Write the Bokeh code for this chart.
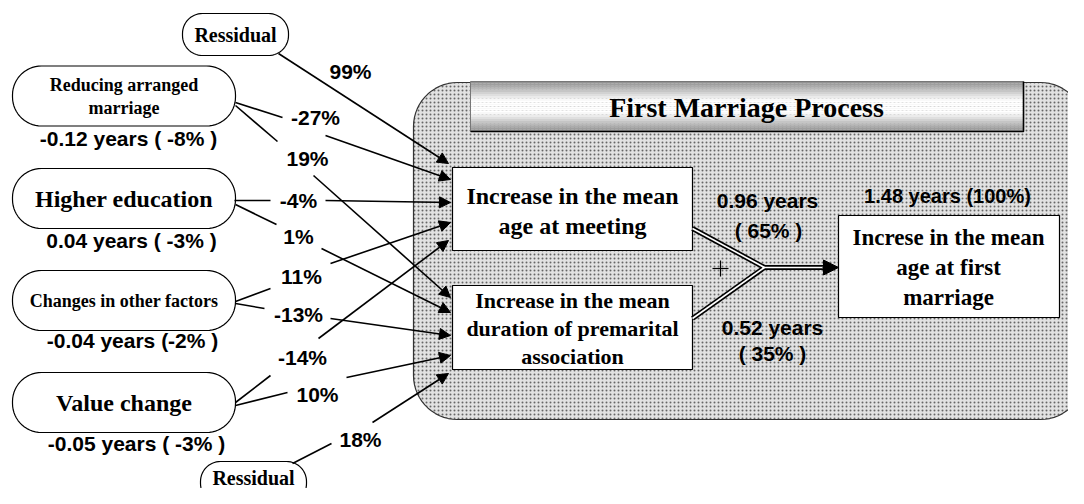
import numpy as np
from bokeh.plotting import figure
from bokeh.models import Range1d, Arrow, NormalHead
from bokeh.core.properties import value
from bokeh.embed import file_html
from bokeh.resources import INLINE

# ---------------- data ----------------
title = "First Marriage Process"
source_names = [["Reducing arranged", "marriage"], ["Higher education"],
                ["Changes in other factors"], ["Value change"]]
effect_labels = ["-0.12 years ( -8% )", "0.04 years ( -3% )",
                 "-0.04 years (-2% )", "-0.05 years ( -3% )"]
to_meeting = [-27, -4, 11, -14]        # path coefficients (%) to age at meeting
to_duration = [19, 1, -13, 10]         # path coefficients (%) to duration
residual_name = "Ressidual"
residual_meeting = 99
residual_duration = 18
meeting_label = ["Increase in the mean", "age at meeting"]
duration_label = ["Increase in the mean", "duration of premarital", "association"]
outcome_label = ["Increse in the mean", "age at first", "marriage"]
meeting_years, meeting_share = 0.96, 65
duration_years, duration_share = 0.52, 35
total_years, total_share = 1.48, 100

SERIF = value("Liberation Serif")
SANS = value("Liberation Sans")

# ---------------- figure ----------------
p = figure(width=1068, height=488, x_range=Range1d(0, 1068), y_range=Range1d(488, 0),
           output_backend="svg", toolbar_location=None, min_border=0)
p.axis.visible = False
p.grid.visible = False
p.outline_line_color = None
p.background_fill_color = "white"


def rrect(x0, y0, x1, y1, r, n=16):
    pts = []
    for cx, cy, a0 in [(x1 - r, y0 + r, -np.pi / 2), (x1 - r, y1 - r, 0),
                       (x0 + r, y1 - r, np.pi / 2), (x0 + r, y0 + r, np.pi)]:
        t = np.linspace(a0, a0 + np.pi / 2, n)
        pts += list(zip(cx + r * np.cos(t), cy + r * np.sin(t)))
    xs, ys = zip(*pts)
    return list(xs), list(ys)


def txt(xs, ys, texts, size, font=SERIF, bold=True, align="center"):
    p.text(x=xs, y=ys, text=texts, text_font=font, text_font_size=f"{size}px",
           text_font_style="bold" if bold else "normal", text_align=align,
           text_baseline="middle", text_color="black")


# process region
bx, by = rrect(413, 82, 1084, 419, 44)
p.patch(bx, by, fill_color="#e2e2e2", line_color="#333333", line_width=1.2,
        hatch_pattern="dot", hatch_color="#666666", hatch_scale=4, hatch_weight=1)

# banner with vertical gradient
n = 24
for k in range(n):
    t = (k + 0.5) / n
    d = abs(t - 0.5) * 2
    g = int(255 - 115 * max(0.0, d - 0.25) / 0.75)
    p.quad(left=470, right=1023, top=81 + k * 50 / n, bottom=81 + (k + 1) * 50 / n,
           fill_color=(g, g, g), line_color=None)
p.line([470, 470, 1023], [131, 81, 81], line_color="#777777", line_width=1)
p.line([470, 1023, 1023], [131, 131, 81], line_color="black", line_width=1.6)
txt([746], [107], [title], 28)

# process boxes
p.quad(left=452, right=692, top=167, bottom=250, fill_color="white", line_color="black", line_width=1.2)
txt([572, 572], [195, 225], meeting_label, 24)
p.quad(left=452, right=692, top=285, bottom=369, fill_color="white", line_color="black", line_width=1.2)
txt([572] * 3, [300, 328, 356], duration_label, 22)
p.quad(left=838, right=1059, top=215, bottom=317, fill_color="white", line_color="black", line_width=1.2)
txt([948] * 3, [237, 267, 297], outcome_label, 23)

# source boxes
src_cy = [95.5, 198, 300, 402]
src_fs = [18, 24, 18, 24]
eff_x = [128, 131, 132, 136]
eff_y = [138, 240, 340, 443]
for i, names in enumerate(source_names):
    xs, ys = rrect(12, src_cy[i] - 30, 235, src_cy[i] + 30, 29)
    p.patch(xs, ys, fill_color="white", line_color="black", line_width=1.2)
    off = [-11.5, 11.5] if len(names) == 2 else [0]
    txt([123.5] * len(names), [src_cy[i] + o for o in off], names, src_fs[i])
    txt([eff_x[i]], [eff_y[i]], [effect_labels[i]], 21, font=SANS)

# residual boxes
for (x0, y0, x1, y1, ty) in [(182, 13, 288, 55, 34), (200, 461, 306, 503, 477)]:
    xs, ys = rrect(x0, y0, x1, y1, 20)
    p.patch(xs, ys, fill_color="white", line_color="black", line_width=1.2)
    txt([(x0 + x1) / 2], [ty], [residual_name], 20)

# ---------------- paths ----------------
paths = [  # value, start, pre-label end, label pos, post-label start, tip
    (to_meeting[0], (235, 102), (282, 117), (315, 117), (325, 135), (450, 179)),
    (to_duration[0], (235, 105), (277, 141), (307, 158), (313, 175), (450, 297)),
    (to_meeting[1], (234, 200), (270, 200), (298, 200), (325, 200), (450, 202)),
    (to_duration[1], (235, 204), (276, 224), (298, 236), (321, 248), (450, 312)),
    (to_meeting[2], (235, 301), (270, 288), (301, 276), (330, 263), (450, 222)),
    (to_duration[2], (235, 303), (264, 308), (298, 314), (330, 318), (450, 335)),
    (to_meeting[3], (235, 402), (270, 375), (302, 357), (318, 338), (448, 240)),
    (to_duration[3], (235, 405), (287, 392), (317, 394), (346, 377), (450, 355)),
    (residual_duration, (292, 463), (331, 443), (360, 439), (372, 422), (448, 373)),
]
for v, s, a, l, b, t in paths:
    p.line([s[0], a[0]], [s[1], a[1]], line_color="black", line_width=1.6)
    p.add_layout(Arrow(end=NormalHead(size=11, fill_color="black", line_color="black"),
                       x_start=b[0], y_start=b[1], x_end=t[0], y_end=t[1],
                       line_color="black", line_width=1.6))
    txt([l[0]], [l[1]], [f"{v}%"], 21, font=SANS)

# residual -> meeting
p.add_layout(Arrow(end=NormalHead(size=11, fill_color="black", line_color="black"),
                   x_start=278, y_start=53, x_end=448, y_end=163,
                   line_color="black", line_width=1.6))
txt([350], [71], [f"{residual_meeting}%"], 21, font=SANS)

# double lines into outcome
for seg in [([692, 764], [228, 267]), ([692, 764], [318, 267]), ([764, 826], [267, 267])]:
    p.line(seg[0], seg[1], line_color="black", line_width=5)
for seg in [([692, 764], [228, 267]), ([692, 764], [318, 267]), ([762, 826], [267, 267])]:
    p.line(seg[0], seg[1], line_color="white", line_width=1.6)
p.add_layout(Arrow(end=NormalHead(size=15, fill_color="black", line_color="black"),
                   x_start=822, y_start=267, x_end=838, y_end=267,
                   line_color="black", line_width=1))
# plus sign
p.segment(x0=[712, 720], y0=[268, 260], x1=[728, 720], y1=[268, 276],
          line_color="black", line_width=1.2)

txt([947], [195], [f"{total_years:.2f} years ({total_share}%)"], 20, font=SANS)
txt([767, 768], [200, 230], [f"{meeting_years:.2f} years", f"( {meeting_share}% )"], 21, font=SANS)
txt([772, 772], [327, 353], [f"{duration_years:.2f} years", f"( {duration_share}% )"], 21, font=SANS)

open("out.html", "w").write(file_html(p, INLINE))
